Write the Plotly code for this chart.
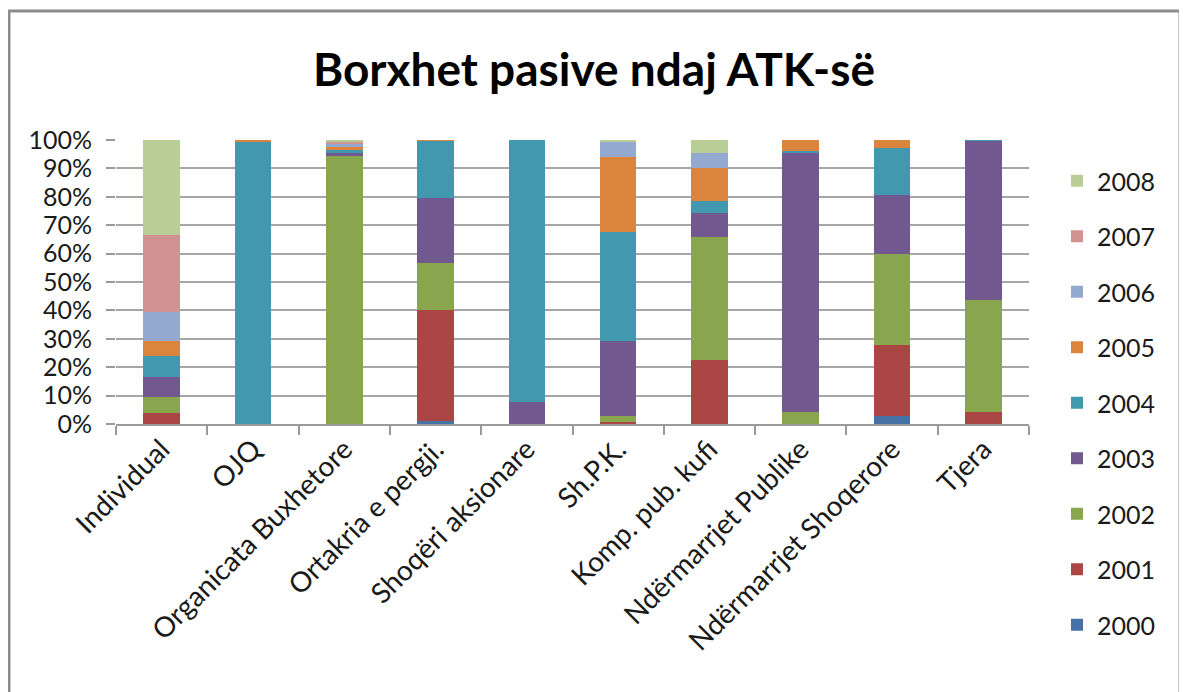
import plotly.graph_objects as go

categories = ["Individual", "OJQ", "Organicata Buxhetore", "Ortakria e pergji.",
              "Shoqëri aksionare", "Sh.P.K.", "Komp. pub. kufi",
              "Ndërmarrjet Publike", "Ndërmarrjet Shoqerore", "Tjera"]

years = ["2000", "2001", "2002", "2003", "2004", "2005", "2006", "2007", "2008"]

v2000 = [0, 0, 0, 1.1, 0, 0, 0, 0, 2.7, 0]
v2001 = [3.8, 0, 0, 38.9, 0, 0.7, 22.5, 0, 24.9, 4.2]
v2002 = [5.6, 0, 94.5, 16.6, 0, 2.1, 43.5, 4.2, 32.1, 39.5]
v2003 = [7.3, 0, 1.0, 22.9, 7.9, 26.4, 8.3, 91.5, 20.7, 56.1]
v2004 = [7.4, 99.6, 0.9, 20.3, 92.1, 38.3, 4.1, 0.3, 16.7, 0.2]
v2005 = [5.1, 0.4, 1.0, 0.2, 0, 26.5, 11.9, 4.0, 2.7, 0]
v2006 = [10.4, 0, 1.2, 0, 0, 5.3, 5.2, 0, 0, 0]
v2007 = [26.8, 0, 0.8, 0, 0, 0.2, 0, 0, 0, 0]
v2008 = [33.6, 0, 0.6, 0, 0, 0.5, 4.5, 0, 0, 0]

series = [v2000, v2001, v2002, v2003, v2004, v2005, v2006, v2007, v2008]
colors = ["#4572A7", "#AA4643", "#89A54E", "#71588F", "#4198AF",
          "#DB843D", "#93A9CF", "#D19392", "#B9CD96"]

FONT = "Lato"
fig = go.Figure()
for i, (yr, vals, col) in enumerate(zip(years, series, colors)):
    fig.add_trace(go.Bar(x=categories, y=vals, name=yr, legendgroup=yr,
                         legendrank=100 - i,
                         marker=dict(color=col, line=dict(width=0))))

# page body has an 8px default margin; work in screen coordinates
OFF = 8
W, H = 1179, 684
SX0, SX1, SY0, SY1 = 116, 1029, 140, 424   # plot area on screen
L = SX0 - OFF
T = SY0 - OFF
R = W - (SX1 - OFF)
B = H - (SY1 - OFF)
pw, ph = SX1 - SX0, SY1 - SY0

def px(sx):
    return (sx - SX0) / pw

def py(sy):
    return (SY1 - sy) / ph

fig.update_layout(
    width=W, height=H,
    margin=dict(l=L, r=R, t=T, b=B, autoexpand=False),
    barmode="stack", barnorm="percent", bargap=0.6,
    paper_bgcolor="white", plot_bgcolor="white",
    font=dict(family=FONT, size=24, color="#1a1a1a"),
    title=dict(text="<b>Borxhet pasive ndaj ATK-së</b>", font=dict(family=FONT, size=46, color="black"),
               xref="container", x=(594 - OFF) / W, xanchor="center",
               yref="container", y=1 - (69.5 - OFF) / H, yanchor="middle"),
    legend=dict(traceorder="grouped", tracegroupgap=20, maxheight=1000,
                x=px(1057), xanchor="left", y=py(158), yanchor="top",
                font=dict(family=FONT, size=25), bgcolor="rgba(0,0,0,0)"),
    xaxis=dict(tickangle=-45, tickson="boundaries", ticks="outside", ticklen=9,
               tickcolor="#9a9a9a", tickwidth=1.5, showline=True, linecolor="#9a9a9a",
               linewidth=1.5, showgrid=False, ticklabelstandoff=-4,
               tickfont=dict(family=FONT, size=28)),
    yaxis=dict(range=[0, 100], dtick=10, ticksuffix="%", ticks="outside", ticklen=9,
               tickcolor="#9a9a9a", tickwidth=1.5, showgrid=True, gridcolor="#a6a6a6",
               gridwidth=1.5, showline=False, zeroline=False, ticklabelstandoff=9,
               tickfont=dict(family=FONT, size=25)),
    shapes=[dict(type="rect", xref="paper", yref="paper",
                 x0=px(9), x1=px(1180), y0=py(705), y1=py(11),
                 line=dict(color="#8c8c8c", width=3), fillcolor="rgba(0,0,0,0)",
                 layer="below")],
)

fig.write_html("out.html")
